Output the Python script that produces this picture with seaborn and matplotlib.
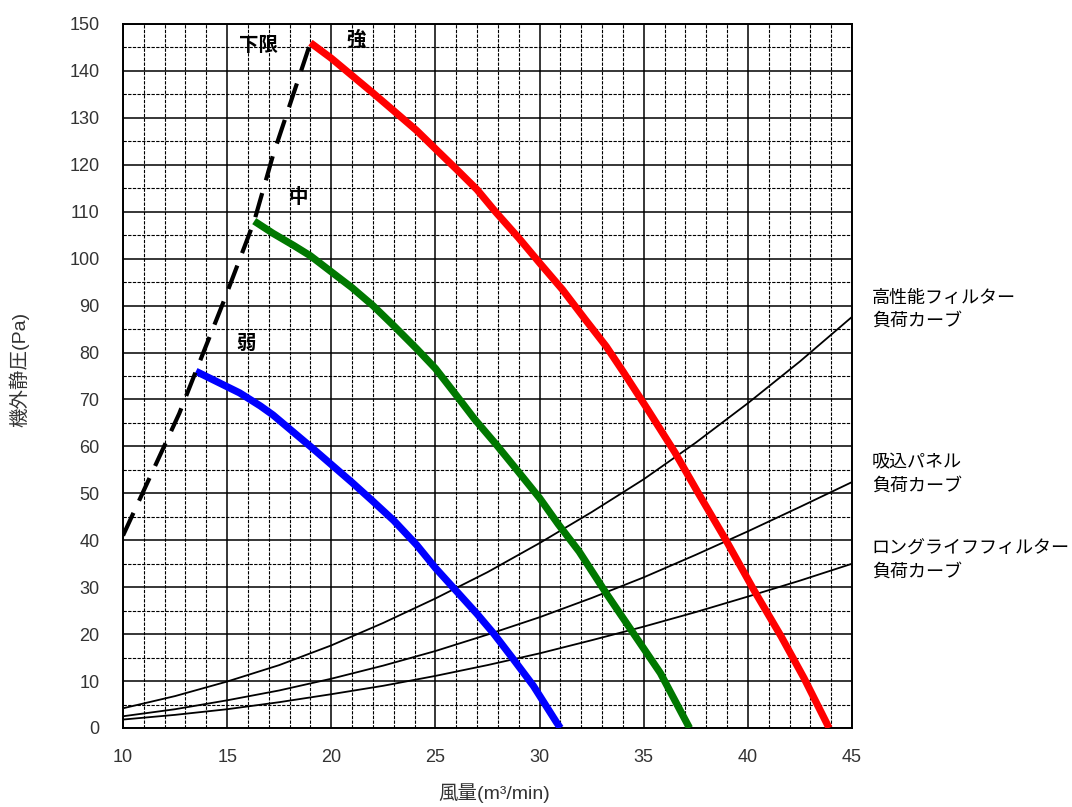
import matplotlib
matplotlib.use("Agg")
import matplotlib.pyplot as plt
from matplotlib.ticker import MultipleLocator
import seaborn as sns
import pandas as pd

# ---- data ----
weak_x = [13.5, 15.6, 16.6, 17.2, 19.1, 21.0, 22.0, 23.0, 24.1, 25.0, 26.0, 27.0, 27.8, 28.7, 29.7, 30.8, 31.0]
weak_y = [76, 71.4, 68.6, 66.7, 59.6, 52.3, 48.3, 44.2, 39.0, 34.1, 29.2, 24.3, 20.1, 14.9, 9.0, 1.3, 0]

mid_x = [16.3, 17.2, 18.2, 19.0, 20.0, 21.0, 22.0, 23.0, 24.1, 25.0, 26.0, 26.9, 27.9, 28.8, 30.0, 30.9, 31.9, 33.2, 34.5, 35.8, 37.2]
mid_y = [108, 105.4, 102.8, 100.6, 97.2, 93.8, 90.0, 85.7, 80.8, 76.6, 70.9, 65.7, 60.5, 55.6, 49.0, 43.4, 37.6, 28.7, 20.2, 11.7, 0]

strong_x = [19.0, 20.0, 21.0, 22.0, 23.0, 24.1, 25.0, 26.0, 27.0, 27.9, 29.0, 30.0, 31.1, 32.2, 33.2, 34.0, 35.2, 36.5, 37.6, 38.9, 40.3, 41.6, 42.7, 43.9]
strong_y = [146, 142.7, 139.0, 135.3, 131.5, 127.3, 123.4, 119.1, 114.7, 109.9, 104.4, 99.1, 93.4, 87.0, 81.3, 76.0, 67.8, 58.7, 50.2, 40.4, 29.3, 19.5, 10.6, 0]

limit_x = [10, 12.7, 13.5, 14.8, 16.3, 17.2, 18.1, 19.0]
limit_y = [41, 67, 76, 90.5, 108, 122, 134, 146]

load_x = [10, 12.5, 15, 17.5, 20, 22.5, 25, 27.5, 30, 32.5, 35, 37.5, 40, 42.5, 45]
hepa_y = [4.2, 6.8, 9.9, 13.4, 17.6, 22.4, 27.6, 33.2, 39.4, 46.0, 53.0, 60.8, 69.2, 78.1, 87.6]
panel_y = [2.5, 4.0, 5.9, 8.0, 10.5, 13.3, 16.4, 19.9, 23.6, 27.7, 32.1, 36.9, 41.9, 47.1, 52.4]
longlife_y = [1.8, 2.8, 4.0, 5.5, 7.2, 9.0, 11.1, 13.4, 15.9, 18.7, 21.6, 24.7, 28.0, 31.4, 35.0]

x_ticks = [10, 15, 20, 25, 30, 35, 40, 45]
y_ticks = list(range(0, 151, 10))

curve_labels = ["弱", "中", "強", "下限"]
load_labels = ["高性能フィルター\n負荷カーブ", "吸込パネル\n負荷カーブ", "ロングライフフィルター\n負荷カーブ"]

# ---- style ----
sns.set_style("white")
plt.rcParams["font.family"] = ["Liberation Sans", "Noto Sans CJK JP", "DejaVu Sans"]

fig = plt.figure(figsize=(10.72, 8.07), dpi=100)
ax = fig.add_axes([123 / 1072, 1 - 728 / 807, 729 / 1072, 704 / 807])

# grid
ax.set_xlim(10, 45)
ax.set_ylim(0, 150)
ax.xaxis.set_major_locator(MultipleLocator(5))
ax.xaxis.set_minor_locator(MultipleLocator(1))
ax.yaxis.set_major_locator(MultipleLocator(10))
ax.yaxis.set_minor_locator(MultipleLocator(5))
ax.grid(which="major", color="black", linewidth=1.1, linestyle="-", zorder=0)
ax.grid(which="minor", color="black", linewidth=0.8, linestyle=(0, (3, 1.2)), zorder=0)
ax.set_axisbelow(True)

# load curves
for yy in (hepa_y, panel_y, longlife_y):
    df = pd.DataFrame({"x": load_x, "y": yy})
    sns.lineplot(data=df, x="x", y="y", ax=ax, color="black", linewidth=1.3,
                 sort=False, estimator=None, legend=False, zorder=3)

# fan curves
for xx, yy, c in ((weak_x, weak_y, "#0000ff"), (mid_x, mid_y, "#007800"), (strong_x, strong_y, "#ff0000")):
    df = pd.DataFrame({"x": xx, "y": yy})
    sns.lineplot(data=df, x="x", y="y", ax=ax, color=c, linewidth=5.2,
                 sort=False, estimator=None, legend=False, zorder=4,
                 solid_capstyle="butt", solid_joinstyle="round")

# lower limit dashed
df = pd.DataFrame({"x": limit_x, "y": limit_y})
sns.lineplot(data=df, x="x", y="y", ax=ax, color="black", linewidth=3,
             sort=False, estimator=None, legend=False, zorder=5)
ax.lines[-1].set_dashes((6, 3.2))

# annotations
ann_font = dict(family=["Noto Sans CJK JP"], fontsize=14, fontweight="bold",
                ha="center", va="center", color="black", zorder=6)
ax.text(15.9, 82, curve_labels[0], **ann_font)
ax.text(18.4, 113, curve_labels[1], **ann_font)
ax.text(21.2, 146.6, curve_labels[2], **ann_font)
ax.text(16.5, 145.5, curve_labels[3], **ann_font)

rl_font = dict(family=["Noto Sans CJK JP"], fontsize=13, ha="left", va="center",
               color="black", linespacing=1.35, clip_on=False)
ax.text(45.95, 89.2, load_labels[0], **rl_font)
ax.text(45.95, 54.1, load_labels[1], **rl_font)
ax.text(45.95, 35.7, load_labels[2], **rl_font)

# ticks & labels
ax.set_xticks(x_ticks)
ax.set_yticks(y_ticks)
ax.tick_params(which="both", length=0)
ax.tick_params(axis="x", pad=15, labelsize=13, labelcolor="#333333")
ax.tick_params(axis="y", pad=17, labelsize=13, labelcolor="#333333")

ax.set_xlabel("風量(m³/min)", fontsize=14, color="#333333")
ax.set_ylabel("機外静圧(Pa)", fontsize=14, color="#333333")
ax.xaxis.set_label_coords(0.509, -0.078)
ax.yaxis.set_label_coords(-0.128, 0.509)

for s in ax.spines.values():
    s.set_visible(True)
    s.set_color("black")
    s.set_linewidth(1.4)

fig.savefig("out.png", dpi=100)
